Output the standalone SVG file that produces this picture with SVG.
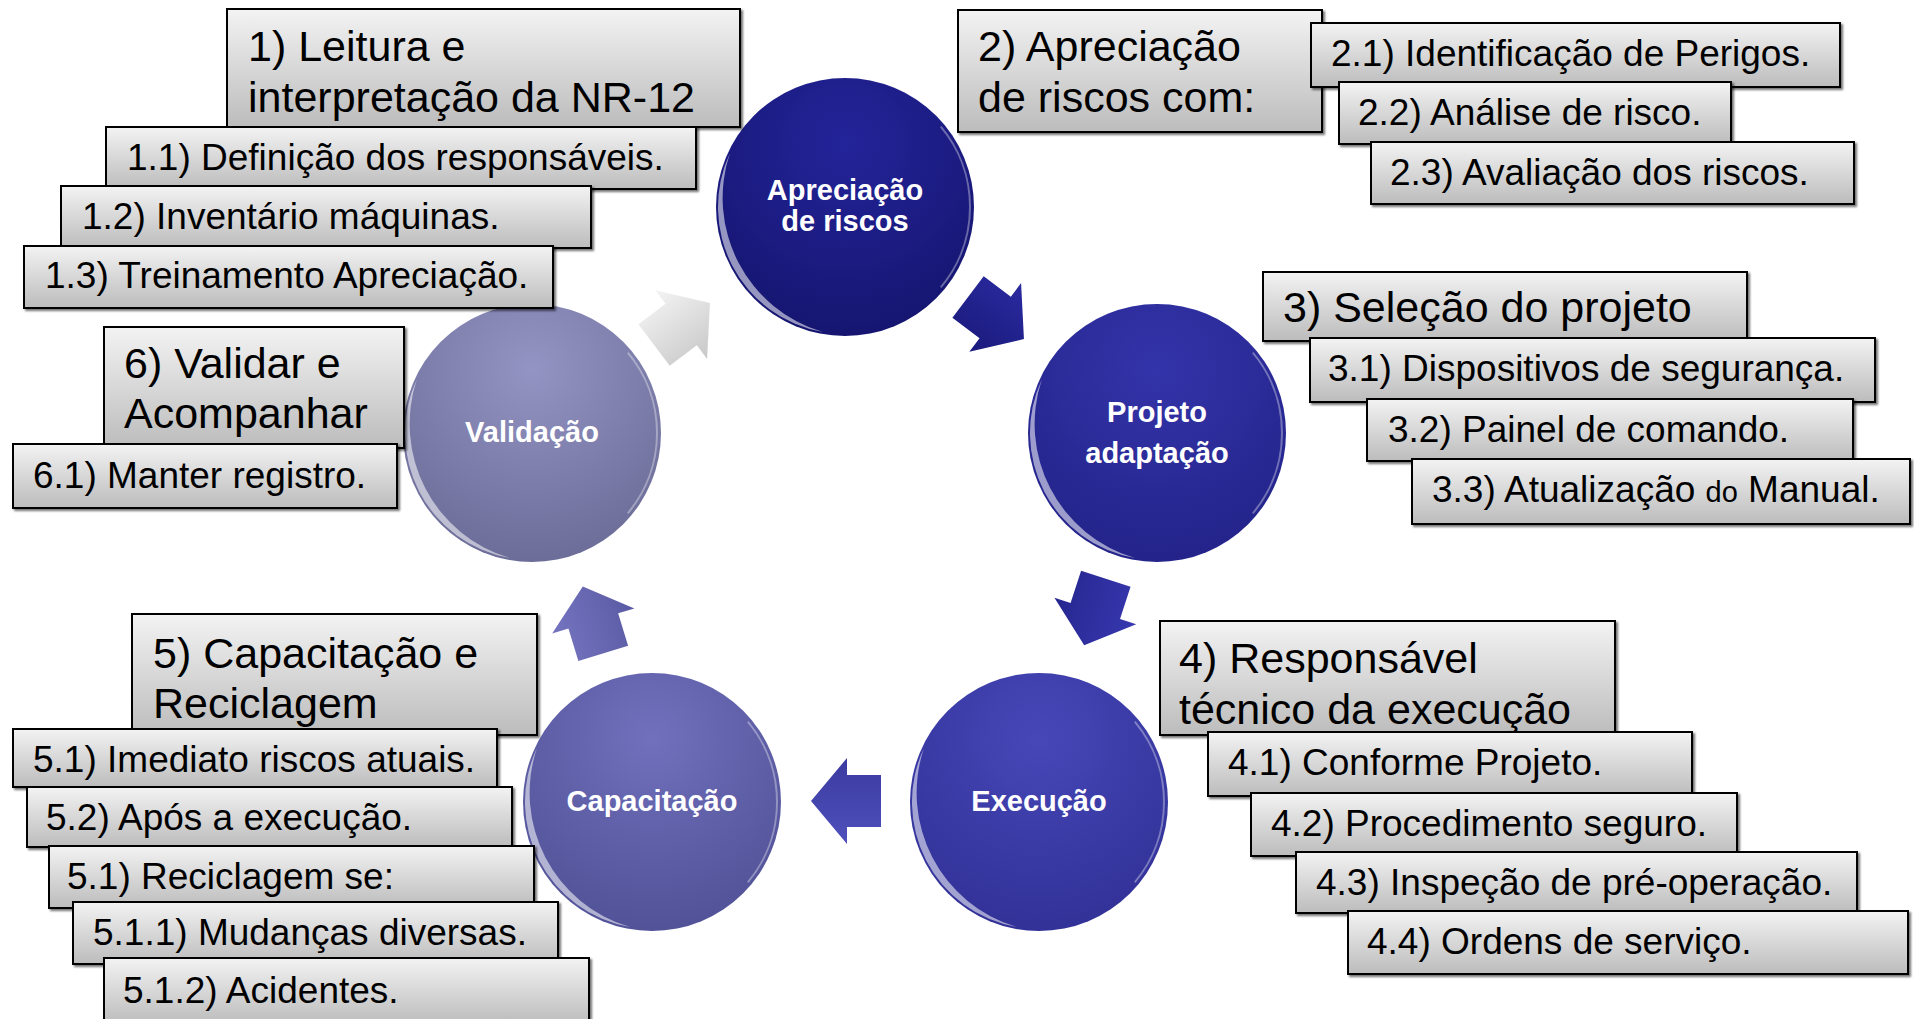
<svg xmlns="http://www.w3.org/2000/svg" width="1914" height="1019" viewBox="0 0 1914 1019">
<defs>
<linearGradient id="boxg" x1="0" y1="0" x2="0" y2="1"><stop offset="0" stop-color="#f3f3f3"/><stop offset="1" stop-color="#bcbcbc"/></linearGradient>
<filter id="sh" x="-5%" y="-10%" width="110%" height="130%"><feDropShadow dx="2" dy="2" stdDeviation="1" flood-color="#000" flood-opacity="0.55"/></filter>
<radialGradient id="c1" cx="0.5" cy="0.25" r="0.8"><stop offset="0" stop-color="#24249a"/><stop offset="1" stop-color="#14146e"/></radialGradient>
<radialGradient id="c2" cx="0.5" cy="0.25" r="0.8"><stop offset="0" stop-color="#3434aa"/><stop offset="1" stop-color="#222288"/></radialGradient>
<radialGradient id="c3" cx="0.5" cy="0.25" r="0.8"><stop offset="0" stop-color="#4747b8"/><stop offset="1" stop-color="#303096"/></radialGradient>
<radialGradient id="c4" cx="0.5" cy="0.25" r="0.8"><stop offset="0" stop-color="#7070bc"/><stop offset="1" stop-color="#505096"/></radialGradient>
<radialGradient id="c5" cx="0.5" cy="0.25" r="0.8"><stop offset="0" stop-color="#9494c4"/><stop offset="1" stop-color="#6a6a96"/></radialGradient>
<linearGradient id="a1" x1="0" y1="0" x2="0" y2="1"><stop offset="0" stop-color="#2a2aa0"/><stop offset="1" stop-color="#1a1a7c"/></linearGradient>
<linearGradient id="a2" x1="0" y1="0" x2="0" y2="1"><stop offset="0" stop-color="#3838b0"/><stop offset="1" stop-color="#262690"/></linearGradient>
<linearGradient id="a3" x1="0" y1="0" x2="0" y2="1"><stop offset="0" stop-color="#5050bc"/><stop offset="1" stop-color="#3a3aa0"/></linearGradient>
<linearGradient id="a4" x1="0" y1="0" x2="0" y2="1"><stop offset="0" stop-color="#7474c0"/><stop offset="1" stop-color="#5a5aa4"/></linearGradient>
<linearGradient id="a5" x1="0" y1="0" x2="0" y2="1"><stop offset="0" stop-color="#f4f4f4"/><stop offset="1" stop-color="#c8c8c8"/></linearGradient>
<path id="arrow" d="M-35,-26 L-1,-26 L-1,-43 L35,0 L-1,43 L-1,26 L-35,26 Z"/>
<path id="gloss" d="M-22.1,125.1 A127,127 0 0 1 -115.1,-53.7 A140,140 0 0 0 -22.1,125.1 Z"/>
<path id="rim" d="M95.8,-80.3 A125,125 0 0 1 95.8,80.3"/>
</defs>
<style>
.box{fill:url(#boxg);stroke:#000;stroke-width:2;filter:url(#sh)}
.t{font-family:"Liberation Sans",Arial,sans-serif;fill:#000}
.tt{font-size:43px}
.st{font-size:37px}
.ct{font-family:"Liberation Sans",Arial,sans-serif;font-weight:bold;font-size:29px;fill:#fff;text-anchor:middle}
.gl{fill:#fff;opacity:0.55}
.rm{fill:none;stroke:#fff;stroke-width:2;opacity:0.35}
</style>
<rect width="1914" height="1019" fill="#fff"/>

<g id="connectors">
<use href="#arrow" fill="url(#a1)" transform="translate(996,318) rotate(37)"/>
<use href="#arrow" fill="url(#a2)" transform="translate(1095,612) rotate(108)"/>
<use href="#arrow" fill="url(#a3)" transform="translate(846,801) rotate(180)"/>
<use href="#arrow" fill="url(#a4)" transform="translate(593,620) rotate(-107)"/>
<use href="#arrow" fill="url(#a5)" transform="translate(682,324) rotate(-37)"/>
</g>

<g id="node-apreciacao" transform="translate(845,207)">
<circle r="129" fill="url(#c1)"/><use href="#gloss" class="gl"/><use href="#rim" class="rm"/>
<text class="ct" x="0" y="-7">Apreciação</text><text class="ct" x="0" y="24">de riscos</text>
</g>
<g id="node-projeto" transform="translate(1157,433)">
<circle r="129" fill="url(#c2)"/><use href="#gloss" class="gl"/><use href="#rim" class="rm"/>
<text class="ct" x="0" y="-11">Projeto</text><text class="ct" x="0" y="30">adaptação</text>
</g>
<g id="node-execucao" transform="translate(1039,802)">
<circle r="129" fill="url(#c3)"/><use href="#gloss" class="gl"/><use href="#rim" class="rm"/>
<text class="ct" x="0" y="9">Execução</text>
</g>
<g id="node-capacitacao" transform="translate(652,802)">
<circle r="129" fill="url(#c4)"/><use href="#gloss" class="gl"/><use href="#rim" class="rm"/>
<text class="ct" x="0" y="9">Capacitação</text>
</g>
<g id="node-validacao" transform="translate(532,433)">
<circle r="129" fill="url(#c5)"/><use href="#gloss" class="gl"/><use href="#rim" class="rm"/>
<text class="ct" x="0" y="9">Validação</text>
</g>

<g id="step1">
<rect class="box" x="227" y="9" width="513" height="118"/>
<text class="t tt" x="248" y="61">1) Leitura e</text>
<text class="t tt" x="248" y="112">interpretação da NR-12</text>
<rect class="box" x="106" y="127" width="590" height="62"/>
<text class="t st" x="127" y="170">1.1) Definição dos responsáveis.</text>
<rect class="box" x="61" y="186" width="530" height="62"/>
<text class="t st" x="82" y="229">1.2) Inventário máquinas.</text>
<rect class="box" x="24" y="246" width="529" height="62"/>
<text class="t st" x="45" y="288">1.3) Treinamento Apreciação.</text>
</g>

<g id="step2">
<rect class="box" x="958" y="10" width="364" height="122"/>
<text class="t tt" x="978" y="61">2) Apreciação</text>
<text class="t tt" x="978" y="112">de riscos com:</text>
<rect class="box" x="1311" y="23" width="529" height="64"/>
<text class="t st" x="1331" y="66">2.1) Identificação de Perigos.</text>
<rect class="box" x="1339" y="82" width="392" height="62"/>
<text class="t st" x="1358" y="125">2.2) Análise de risco.</text>
<rect class="box" x="1371" y="142" width="483" height="62"/>
<text class="t st" x="1390" y="185">2.3) Avaliação dos riscos.</text>
</g>

<g id="step3">
<rect class="box" x="1263" y="272" width="484" height="69"/>
<text class="t tt" x="1283" y="322">3) Seleção do projeto</text>
<rect class="box" x="1310" y="338" width="565" height="64"/>
<text class="t st" x="1328" y="381">3.1) Dispositivos de segurança.</text>
<rect class="box" x="1367" y="399" width="486" height="62"/>
<text class="t st" x="1388" y="442">3.2) Painel de comando.</text>
<rect class="box" x="1412" y="459" width="498" height="65"/>
<text class="t st" x="1432" y="502">3.3) Atualização <tspan font-size="29">do</tspan> Manual.</text>
</g>

<g id="step4">
<rect class="box" x="1160" y="621" width="455" height="114"/>
<text class="t tt" x="1179" y="673">4) Responsável</text>
<text class="t tt" x="1179" y="724">técnico da execução</text>
<rect class="box" x="1208" y="732" width="484" height="64"/>
<text class="t st" x="1228" y="775">4.1) Conforme Projeto.</text>
<rect class="box" x="1251" y="793" width="486" height="63"/>
<text class="t st" x="1271" y="836">4.2) Procedimento seguro.</text>
<rect class="box" x="1296" y="852" width="561" height="61"/>
<text class="t st" x="1316" y="895">4.3) Inspeção de pré-operação.</text>
<rect class="box" x="1348" y="911" width="560" height="63"/>
<text class="t st" x="1367" y="954">4.4) Ordens de serviço.</text>
</g>

<g id="step5">
<rect class="box" x="132" y="614" width="405" height="121"/>
<text class="t tt" x="153" y="668">5) Capacitação e</text>
<text class="t tt" x="153" y="718">Reciclagem</text>
<rect class="box" x="13" y="729" width="484" height="58"/>
<text class="t st" x="33" y="772">5.1) Imediato riscos atuais.</text>
<rect class="box" x="27" y="787" width="485" height="60"/>
<text class="t st" x="46" y="830">5.2) Após a execução.</text>
<rect class="box" x="49" y="846" width="485" height="62"/>
<text class="t st" x="67" y="889">5.1) Reciclagem se:</text>
<rect class="box" x="73" y="902" width="485" height="62"/>
<text class="t st" x="93" y="945">5.1.1) Mudanças diversas.</text>
<rect class="box" x="104" y="958" width="485" height="66"/>
<text class="t st" x="123" y="1003">5.1.2) Acidentes.</text>
</g>

<g id="step6">
<rect class="box" x="104" y="327" width="300" height="121"/>
<text class="t tt" x="124" y="378">6) Validar e</text>
<text class="t tt" x="124" y="428">Acompanhar</text>
<rect class="box" x="13" y="444" width="384" height="64"/>
<text class="t st" x="33" y="488">6.1) Manter registro.</text>
</g>
</svg>
